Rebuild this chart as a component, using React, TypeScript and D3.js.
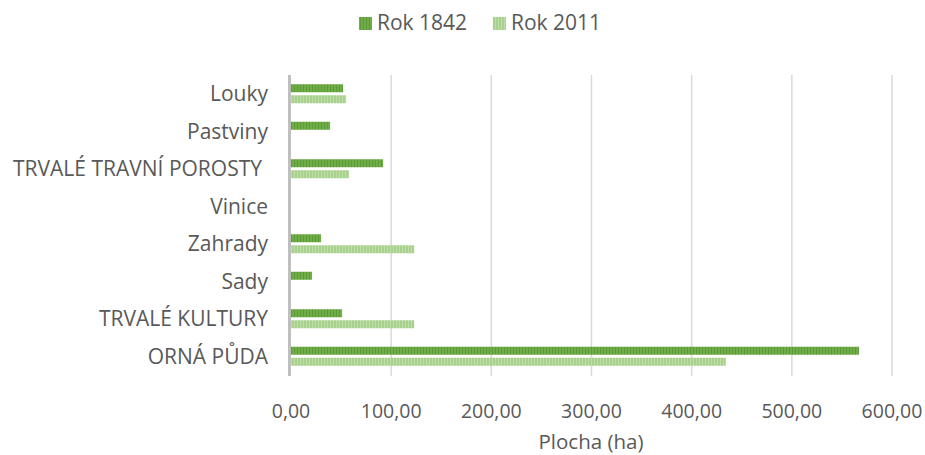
import React from "react";
import * as d3 from "d3";

const categories = ["Louky", "Pastviny", "TRVALÉ TRAVNÍ POROSTY", "Vinice", "Zahrady", "Sady", "TRVALÉ KULTURY", "ORNÁ PŮDA"];
const series1842 = [52, 39, 92, 0, 30, 21, 51, 567];
const series2011 = [55, 0, 58, 0, 123, 0, 123, 434];
const seriesNames = ["Rok 1842", "Rok 2011"];
const xTicks = [0, 100, 200, 300, 400, 500, 600];

const W = 925, H = 455;
const left = 291, right = 892, top = 75, bottom = 375;
const FONT = "'Open Sans', 'Liberation Sans', sans-serif";

export default function App() {
  const x = d3.scaleLinear().domain([0, 600]).range([left, right]);
  const y = d3.scaleBand<string>().domain(categories).range([top, bottom]).paddingInner(0).paddingOuter(0);
  const bw = y.bandwidth();
  const barH = 8;
  const fmt = (v: number) => d3.format(".2f")(v).replace(".", ",");
  return (
    <svg width={W} height={H} style={{ position: "absolute", left: 0, top: 0, background: "#fff" }}>
      <defs>
        <pattern id="p1842" width="3" height="4" patternUnits="userSpaceOnUse">
          <rect width="3" height="4" fill="#70ad47" />
          <rect width="1" height="4" fill="#5a9a38" />
        </pattern>
        <pattern id="p2011" width="3" height="4" patternUnits="userSpaceOnUse">
          <rect width="3" height="4" fill="#a9d18e" />
          <rect width="1" height="4" fill="#c0deaa" />
        </pattern>
      </defs>
      {xTicks.slice(1).map((t) => (
        <line key={t} x1={x(t)} x2={x(t)} y1={top} y2={bottom + 1} stroke="#d9d9d9" strokeWidth={1.5} />
      ))}
      {categories.map((c, i) => {
        const y0 = (y(c) as number) + bw / 2;
        return (
          <g key={c}>
            {series1842[i] > 0 && (
              <rect x={x(0)} y={y0 - barH - 1.5} width={x(series1842[i]) - x(0)} height={barH} fill="url(#p1842)" />
            )}
            {series2011[i] > 0 && (
              <rect x={x(0)} y={y0 + 1.5} width={x(series2011[i]) - x(0)} height={barH} fill="url(#p2011)" />
            )}
            <text x={c === "TRVALÉ TRAVNÍ POROSTY" ? 262 : 268} y={y0} dy="0.35em" textAnchor="end" fontFamily={FONT} fontSize={21} fill="#595959">{c}</text>
          </g>
        );
      })}
      <line x1={289.5} x2={289.5} y1={top} y2={bottom + 1} stroke="#bfbfbf" strokeWidth={3} />
      {xTicks.map((t) => (
        <text key={t} x={x(t)} y={411} dy="0.35em" textAnchor="middle" fontFamily={FONT} fontSize={19.5} fill="#595959">{fmt(t)}</text>
      ))}
      <text x={591} y={442} dy="0.35em" textAnchor="middle" fontFamily={FONT} fontSize={20.5} fill="#595959">Plocha (ha)</text>
      <g>
        <rect x={359} y={17} width={13} height={13} fill="url(#p1842)" />
        <text x={377} y={23} dy="0.35em" fontFamily={FONT} fontSize={21} fill="#595959">{seriesNames[0]}</text>
        <rect x={493} y={17} width={13} height={13} fill="url(#p2011)" />
        <text x={511} y={23} dy="0.35em" fontFamily={FONT} fontSize={21} fill="#595959">{seriesNames[1]}</text>
      </g>
    </svg>
  );
}
